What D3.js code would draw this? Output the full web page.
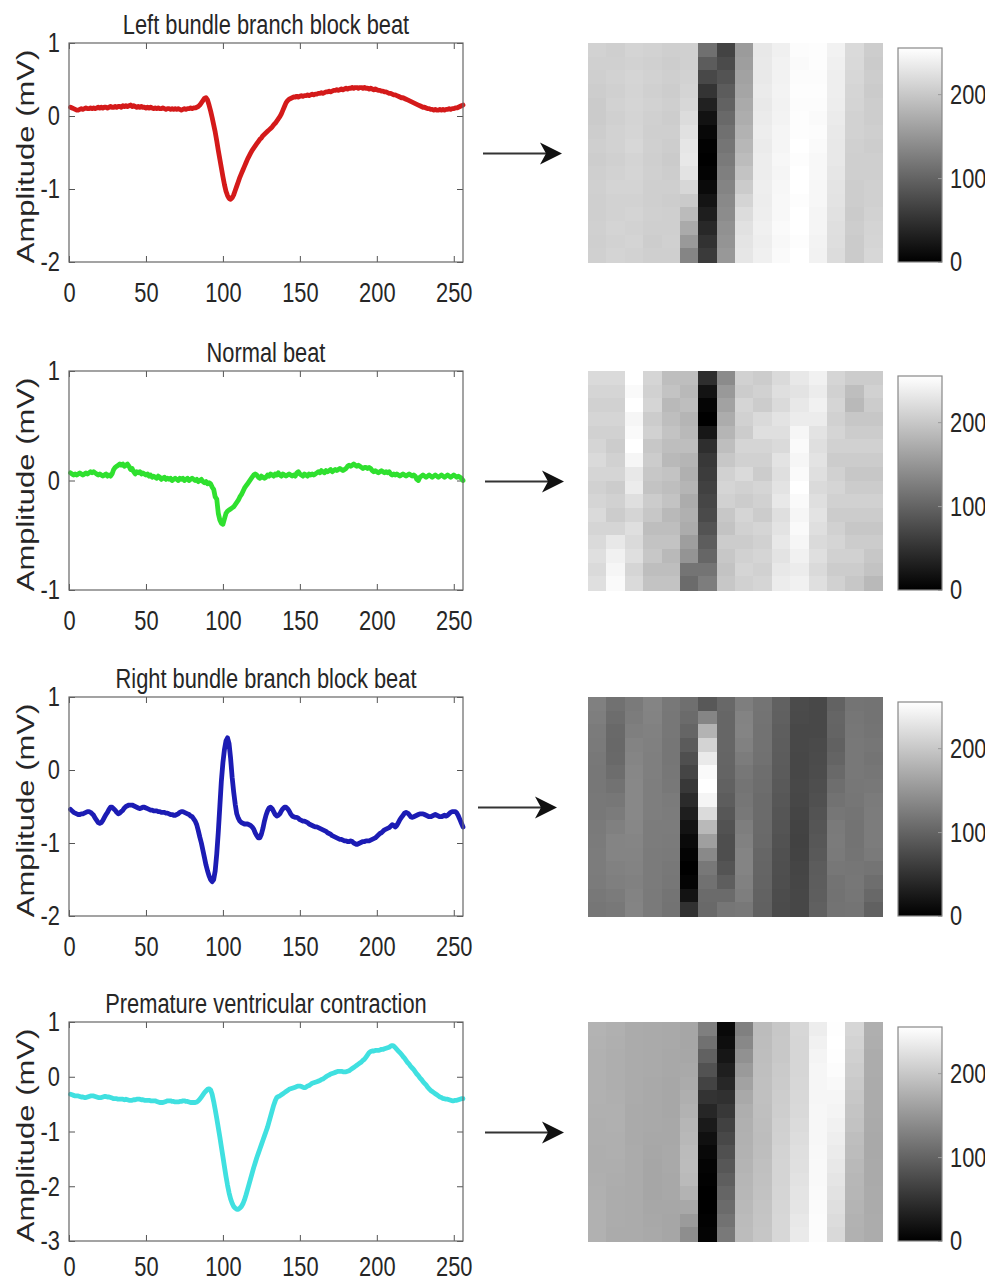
<!DOCTYPE html>
<html>
<head>
<meta charset="utf-8">
<script src="https://cdn.jsdelivr.net/npm/d3@7"></script>
<style>
  body { margin: 0; background: #fff; }
  text { font-family: "Liberation Sans", Arial, sans-serif; fill: #262626; }
</style>
</head>
<body>
<svg id="fig" width="985" height="1284"></svg>
<script>
// ---- Beat classes -------------------------------------------------------
const titles = [
  "Left bundle branch block beat",
  "Normal beat",
  "Right bundle branch block beat",
  "Premature ventricular contraction"
];
const lineColors = ["#d41a1a", "#2fe02f", "#1c1cb4", "#40e0e0"];

// ---- Axis ticks -----------------------------------------------------------
const xTicks = [0, 50, 100, 150, 200, 250];
const yDomains = [[-2, 1], [-1, 1], [-2, 1], [-3, 1]];
const yTicks = [[-2, -1, 0, 1], [-1, 0, 1], [-2, -1, 0, 1], [-3, -2, -1, 0, 1]];
const cbTicks = [0, 100, 200];
const yLabel = "Amplitude (mV)";

// ---- 256-sample beats (mV), 16 samples per line = one image column --------
const lbbb = [
  0.12,0.11,0.10,0.09,0.08,0.08,0.09,0.10,0.09,0.10,0.11,0.10,0.10,0.11,0.10,0.11,
  0.10,0.11,0.12,0.11,0.12,0.11,0.12,0.12,0.11,0.12,0.13,0.12,0.12,0.13,0.12,0.13,
  0.13,0.12,0.14,0.13,0.14,0.13,0.14,0.15,0.13,0.14,0.13,0.12,0.13,0.12,0.13,0.12,
  0.12,0.11,0.12,0.11,0.12,0.11,0.10,0.11,0.10,0.11,0.10,0.10,0.11,0.10,0.09,0.10,
  0.10,0.09,0.10,0.09,0.10,0.09,0.10,0.09,0.08,0.09,0.10,0.09,0.10,0.10,0.11,0.10,
  0.11,0.11,0.12,0.13,0.15,0.18,0.21,0.24,0.25,0.22,0.15,0.07,-0.02,-0.12,-0.22,-0.34,
  -0.47,-0.59,-0.71,-0.83,-0.94,-1.03,-1.09,-1.13,-1.14,-1.12,-1.08,-1.02,-0.96,-0.90,-0.84,-0.79,
  -0.74,-0.69,-0.64,-0.59,-0.55,-0.51,-0.47,-0.44,-0.41,-0.38,-0.35,-0.32,-0.30,-0.27,-0.25,-0.23,
  -0.21,-0.19,-0.17,-0.15,-0.12,-0.10,-0.07,-0.04,-0.01,0.03,0.08,0.13,0.18,0.21,0.23,0.24,
  0.25,0.26,0.26,0.27,0.26,0.27,0.28,0.27,0.28,0.28,0.29,0.28,0.29,0.30,0.29,0.30,
  0.30,0.31,0.31,0.32,0.31,0.32,0.33,0.33,0.34,0.33,0.34,0.35,0.35,0.36,0.35,0.36,
  0.37,0.36,0.37,0.38,0.37,0.38,0.38,0.39,0.38,0.39,0.39,0.38,0.39,0.39,0.38,0.39,
  0.38,0.38,0.37,0.38,0.37,0.36,0.37,0.36,0.35,0.35,0.34,0.34,0.33,0.33,0.32,0.31,
  0.31,0.30,0.29,0.29,0.28,0.27,0.26,0.25,0.25,0.24,0.23,0.22,0.21,0.20,0.19,0.18,
  0.17,0.16,0.15,0.14,0.13,0.12,0.12,0.11,0.10,0.10,0.09,0.09,0.08,0.09,0.08,0.08,
  0.09,0.08,0.09,0.08,0.09,0.09,0.10,0.09,0.10,0.10,0.11,0.11,0.12,0.13,0.14,0.15
];

const normal = [
  0.07,0.06,0.05,0.06,0.05,0.06,0.07,0.06,0.05,0.06,0.07,0.06,0.07,0.08,0.07,0.08,
  0.07,0.06,0.05,0.06,0.05,0.04,0.05,0.06,0.04,0.05,0.04,0.06,0.10,0.12,0.13,0.14,
  0.15,0.14,0.15,0.13,0.14,0.15,0.13,0.10,0.11,0.08,0.06,0.08,0.07,0.08,0.06,0.07,
  0.06,0.05,0.06,0.04,0.05,0.03,0.04,0.03,0.02,0.04,0.03,0.01,0.02,0.03,0.01,0.02,
  0.01,0.02,0.00,0.01,0.02,0.01,0.00,0.02,0.01,0.02,0.00,0.01,0.02,0.00,0.01,0.02,
  0.01,0.00,0.01,-0.01,0.00,0.01,-0.01,-0.02,-0.01,-0.03,-0.02,-0.03,-0.06,-0.08,-0.15,-0.17,
  -0.30,-0.36,-0.39,-0.40,-0.35,-0.30,-0.28,-0.27,-0.26,-0.25,-0.24,-0.22,-0.20,-0.18,-0.15,-0.13,
  -0.10,-0.07,-0.05,-0.03,-0.01,0.01,0.03,0.05,0.06,0.05,0.03,0.02,0.04,0.03,0.02,0.03,
  0.05,0.04,0.06,0.05,0.04,0.06,0.05,0.07,0.05,0.04,0.06,0.05,0.04,0.05,0.06,0.05,
  0.04,0.05,0.04,0.07,0.08,0.06,0.05,0.04,0.06,0.05,0.04,0.06,0.05,0.06,0.05,0.06,
  0.07,0.08,0.07,0.09,0.08,0.07,0.09,0.08,0.09,0.10,0.08,0.09,0.10,0.09,0.10,0.11,
  0.10,0.09,0.10,0.11,0.13,0.14,0.13,0.14,0.15,0.14,0.13,0.14,0.13,0.12,0.11,0.12,
  0.12,0.11,0.12,0.11,0.09,0.08,0.09,0.08,0.07,0.08,0.09,0.08,0.07,0.08,0.07,0.08,
  0.06,0.05,0.06,0.05,0.06,0.05,0.04,0.05,0.06,0.05,0.04,0.05,0.06,0.05,0.04,0.05,
  0.04,0.01,0.00,0.03,0.04,0.05,0.04,0.03,0.04,0.05,0.04,0.03,0.04,0.05,0.04,0.03,
  0.04,0.05,0.04,0.03,0.04,0.05,0.04,0.03,0.04,0.05,0.04,0.03,0.04,0.03,0.02,0.00
];

const rbbb = [
  -0.54,-0.56,-0.58,-0.59,-0.60,-0.61,-0.61,-0.60,-0.60,-0.59,-0.58,-0.57,-0.57,-0.58,-0.60,-0.62,
  -0.66,-0.69,-0.72,-0.73,-0.72,-0.69,-0.65,-0.61,-0.58,-0.54,-0.51,-0.51,-0.53,-0.55,-0.58,-0.60,
  -0.59,-0.57,-0.55,-0.52,-0.50,-0.49,-0.48,-0.48,-0.48,-0.49,-0.50,-0.51,-0.52,-0.53,-0.52,-0.51,
  -0.51,-0.52,-0.53,-0.54,-0.55,-0.55,-0.56,-0.56,-0.56,-0.57,-0.57,-0.58,-0.58,-0.58,-0.59,-0.59,
  -0.60,-0.61,-0.61,-0.62,-0.62,-0.61,-0.60,-0.58,-0.57,-0.57,-0.58,-0.59,-0.60,-0.61,-0.63,-0.64,
  -0.67,-0.70,-0.75,-0.83,-0.92,-1.00,-1.10,-1.20,-1.30,-1.38,-1.45,-1.50,-1.53,-1.50,-1.38,-1.15,
  -0.85,-0.50,-0.15,0.10,0.28,0.40,0.44,0.36,0.16,-0.10,-0.30,-0.47,-0.60,-0.66,-0.70,-0.72,
  -0.73,-0.74,-0.74,-0.74,-0.75,-0.76,-0.78,-0.81,-0.86,-0.90,-0.93,-0.93,-0.88,-0.80,-0.70,-0.62,
  -0.56,-0.52,-0.51,-0.53,-0.57,-0.61,-0.63,-0.62,-0.60,-0.56,-0.53,-0.51,-0.51,-0.53,-0.56,-0.60,
  -0.63,-0.64,-0.65,-0.65,-0.66,-0.68,-0.69,-0.70,-0.70,-0.71,-0.72,-0.74,-0.75,-0.76,-0.77,-0.78,
  -0.78,-0.79,-0.80,-0.81,-0.82,-0.83,-0.84,-0.86,-0.87,-0.88,-0.90,-0.91,-0.92,-0.93,-0.94,-0.95,
  -0.95,-0.96,-0.97,-0.97,-0.98,-0.98,-0.97,-0.98,-1.00,-1.01,-1.02,-1.01,-1.00,-0.99,-0.98,-0.98,
  -0.97,-0.97,-0.97,-0.96,-0.95,-0.94,-0.93,-0.91,-0.89,-0.87,-0.86,-0.84,-0.82,-0.81,-0.80,-0.79,
  -0.77,-0.75,-0.76,-0.78,-0.76,-0.72,-0.68,-0.65,-0.62,-0.59,-0.58,-0.59,-0.61,-0.64,-0.65,-0.64,
  -0.63,-0.62,-0.61,-0.60,-0.60,-0.60,-0.61,-0.62,-0.63,-0.64,-0.64,-0.63,-0.62,-0.61,-0.62,-0.63,
  -0.64,-0.64,-0.63,-0.62,-0.63,-0.62,-0.60,-0.58,-0.57,-0.57,-0.57,-0.59,-0.63,-0.68,-0.73,-0.78
];

const pvc = [
  -0.32,-0.33,-0.34,-0.35,-0.35,-0.35,-0.36,-0.37,-0.37,-0.38,-0.38,-0.37,-0.36,-0.35,-0.35,-0.35,
  -0.36,-0.37,-0.38,-0.38,-0.38,-0.37,-0.36,-0.36,-0.37,-0.37,-0.38,-0.39,-0.40,-0.40,-0.40,-0.41,
  -0.41,-0.41,-0.41,-0.42,-0.41,-0.42,-0.43,-0.43,-0.43,-0.42,-0.42,-0.41,-0.41,-0.41,-0.42,-0.42,
  -0.43,-0.43,-0.43,-0.43,-0.44,-0.44,-0.44,-0.44,-0.45,-0.46,-0.47,-0.47,-0.47,-0.46,-0.45,-0.44,
  -0.44,-0.44,-0.45,-0.45,-0.46,-0.46,-0.46,-0.45,-0.45,-0.44,-0.44,-0.45,-0.45,-0.46,-0.47,-0.47,
  -0.47,-0.47,-0.46,-0.44,-0.41,-0.37,-0.33,-0.29,-0.26,-0.23,-0.22,-0.24,-0.32,-0.45,-0.60,-0.76,
  -0.93,-1.10,-1.28,-1.46,-1.64,-1.82,-1.98,-2.12,-2.23,-2.31,-2.37,-2.40,-2.42,-2.42,-2.40,-2.37,
  -2.32,-2.25,-2.16,-2.06,-1.96,-1.86,-1.76,-1.66,-1.57,-1.48,-1.40,-1.32,-1.24,-1.16,-1.08,-1.00,
  -0.92,-0.82,-0.72,-0.62,-0.52,-0.44,-0.38,-0.36,-0.35,-0.33,-0.31,-0.29,-0.27,-0.25,-0.23,-0.22,
  -0.21,-0.20,-0.19,-0.18,-0.17,-0.17,-0.18,-0.19,-0.20,-0.19,-0.17,-0.16,-0.14,-0.12,-0.11,-0.10,
  -0.09,-0.08,-0.07,-0.05,-0.04,-0.02,0.00,0.02,0.03,0.05,0.06,0.07,0.08,0.09,0.10,0.10,
  0.10,0.09,0.09,0.09,0.10,0.11,0.13,0.15,0.17,0.19,0.21,0.23,0.25,0.27,0.30,0.32,
  0.36,0.40,0.44,0.46,0.47,0.47,0.48,0.48,0.48,0.49,0.50,0.50,0.51,0.52,0.53,0.54,
  0.56,0.57,0.56,0.53,0.50,0.47,0.44,0.41,0.37,0.34,0.30,0.26,0.23,0.19,0.16,0.13,
  0.09,0.05,0.02,-0.02,-0.05,-0.09,-0.12,-0.15,-0.19,-0.22,-0.25,-0.27,-0.29,-0.31,-0.33,-0.35,
  -0.37,-0.38,-0.40,-0.40,-0.41,-0.41,-0.42,-0.43,-0.44,-0.44,-0.43,-0.43,-0.42,-0.41,-0.40,-0.40
];

const beats = [lbbb, normal, rbbb, pvc];

// ---- Page geometry ----------------------------------------------------------
const G = {
  plotLeft: 69, plotRight: 463,
  rowTops: [43, 371, 697, 1022], rowH: 219,
  xLabelPad: [20, 20, 20, 15],
  imgLeft: 588, imgRight: 882,
  cbLeft: 898, cbRight: 942, cbInset: 5,
  arrowX0: [483, 485, 478, 485], arrowLen: 79,
  textSX: 0.78, tickFont: 28, titleFont: 28, labelFont: 31
};
const GRID = 16;
const plain = d => String(d);   // ASCII hyphen for negative ticks

const svg = d3.select("#fig");

const defs = svg.append("defs");
const grad = defs.append("linearGradient")
  .attr("id", "grayRamp").attr("x1", 0).attr("y1", 1).attr("x2", 0).attr("y2", 0);
grad.append("stop").attr("offset", "0%").attr("stop-color", "#000");
grad.append("stop").attr("offset", "100%").attr("stop-color", "#fff");

// narrow text: fonts are compressed horizontally
function squish(sel, padX) {
  sel.attr("transform", `scale(${G.textSX},1)`);
  if (padX !== undefined) sel.attr("x", padX / G.textSX);
}

beats.forEach((beat, r) => {
  const top = G.rowTops[r], bottom = top + G.rowH;
  const g = svg.append("g");

  const x = d3.scaleLinear().domain([0, 256]).range([G.plotLeft, G.plotRight]);
  const y = d3.scaleLinear().domain(yDomains[r]).range([bottom, top]);

  // axes (ticks pointing inward on all four sides)
  const gx = g.append("g").attr("transform", `translate(0,${bottom})`)
    .call(d3.axisBottom(x).tickValues(xTicks).tickSizeInner(-6).tickSizeOuter(0)
      .tickPadding(G.xLabelPad[r]).tickFormat(plain));
  gx.selectAll("text").attr("font-size", G.tickFont).call(squish);
  const gxt = g.append("g").attr("transform", `translate(0,${top})`)
    .call(d3.axisTop(x).tickValues(xTicks).tickSizeInner(-6).tickSizeOuter(0).tickFormat(""));
  const gy = g.append("g").attr("transform", `translate(${G.plotLeft},0)`)
    .call(d3.axisLeft(y).tickValues(yTicks[r]).tickSizeInner(-6).tickSizeOuter(0).tickFormat(plain));
  gy.selectAll("text").attr("font-size", G.tickFont).call(squish, -9);
  const gyr = g.append("g").attr("transform", `translate(${G.plotRight},0)`)
    .call(d3.axisRight(y).tickValues(yTicks[r]).tickSizeInner(-6).tickSizeOuter(0).tickFormat(""));
  [gx, gxt, gy, gyr].forEach(a => {
    a.select(".domain").remove();
    a.selectAll("line").attr("stroke", "#555").attr("stroke-width", 1);
    a.selectAll("text").attr("fill", "#262626").attr("font-family", "Liberation Sans, Arial, sans-serif");
  });

  // the beat trace
  const line = d3.line().x((d, i) => x(i + 1)).y(d => y(d)).curve(d3.curveLinear);
  g.append("path").datum(beat)
    .attr("d", line).attr("fill", "none")
    .attr("stroke", lineColors[r]).attr("stroke-width", 4.8)
    .attr("stroke-linejoin", "round").attr("stroke-linecap", "round");

  // axes box
  g.append("rect")
    .attr("x", G.plotLeft).attr("y", top)
    .attr("width", G.plotRight - G.plotLeft).attr("height", G.rowH)
    .attr("fill", "none").attr("stroke", "#666").attr("stroke-width", 1.2);

  // title
  g.append("text")
    .attr("transform", `translate(${(G.plotLeft + G.plotRight) / 2},${top - 9}) scale(${G.textSX},1)`)
    .attr("text-anchor", "middle").attr("font-size", G.titleFont)
    .text(titles[r]);

  // y label
  g.append("text")
    .attr("transform", `translate(34,${top + G.rowH / 2 + 4}) scale(${G.textSX},1) rotate(-90)`)
    .attr("text-anchor", "middle").attr("font-size", G.labelFont)
    .text(yLabel);

  // arrow
  const ay = top + G.rowH / 2 + 1;
  const ax0 = G.arrowX0[r], ax1 = ax0 + G.arrowLen;
  g.append("line").attr("x1", ax0).attr("x2", ax1 - 16).attr("y1", ay).attr("y2", ay)
    .attr("stroke", "#333").attr("stroke-width", 2);
  g.append("path")
    .attr("d", `M${ax1},${ay} L${ax1 - 22},${ay - 11} L${ax1 - 16},${ay} L${ax1 - 22},${ay + 11} Z`)
    .attr("fill", "#111");

  // 16x16 gray image: column j holds samples 16j .. 16j+15, top to bottom
  const col = d3.scaleBand().domain(d3.range(GRID)).range([G.imgLeft, G.imgRight]);
  const row = d3.scaleBand().domain(d3.range(GRID)).range([top, bottom]);
  const gray = d3.scaleLinear().domain(d3.extent(beat)).range([0, 255]);
  const cells = beat.map((v, k) => ({ j: Math.floor(k / GRID), i: k % GRID, g: Math.round(gray(v)) }));
  g.append("g").attr("shape-rendering", "crispEdges")
    .selectAll("rect").data(cells).join("rect")
    .attr("x", d => col(d.j)).attr("y", d => row(d.i))
    .attr("width", col.bandwidth() + 0.6).attr("height", row.bandwidth() + 0.6)
    .attr("fill", d => d3.rgb(d.g, d.g, d.g));

  // colorbar
  const cbTop = top + G.cbInset;
  const cb = d3.scaleLinear().domain([0, 255]).range([bottom, cbTop]);
  g.append("rect")
    .attr("x", G.cbLeft).attr("y", cbTop)
    .attr("width", G.cbRight - G.cbLeft).attr("height", bottom - cbTop)
    .attr("fill", "url(#grayRamp)").attr("stroke", "#888").attr("stroke-width", 1.2);
  const gc = g.append("g").attr("transform", `translate(${G.cbRight},0)`)
    .call(d3.axisRight(cb).tickValues(cbTicks).tickSizeInner(-4).tickSizeOuter(0).tickFormat(plain));
  gc.select(".domain").remove();
  gc.selectAll("line").attr("stroke", "#999");
  gc.selectAll("text").attr("font-size", G.tickFont).attr("fill", "#262626")
    .attr("font-family", "Liberation Sans, Arial, sans-serif").call(squish, 8);
});
</script>
</body>
</html>
